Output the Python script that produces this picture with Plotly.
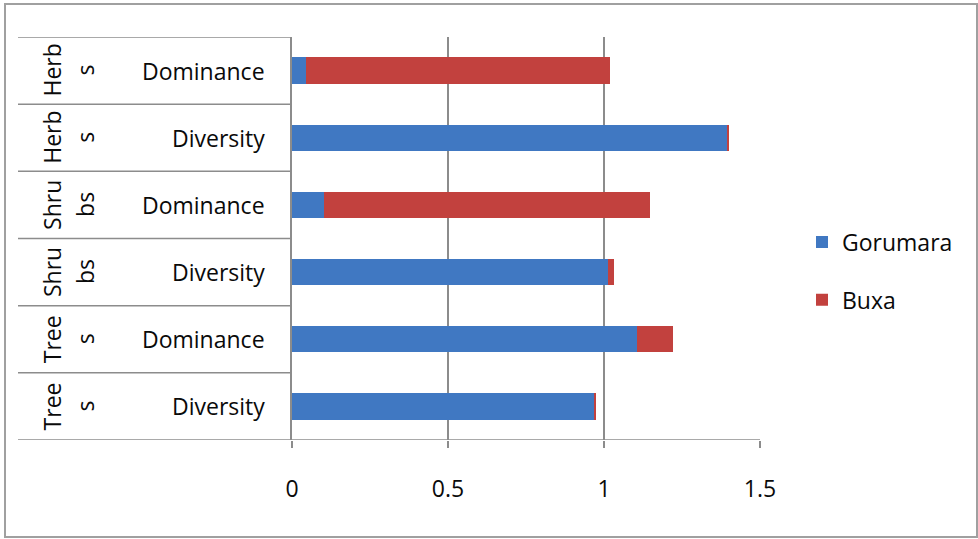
import plotly.graph_objects as go

# ---- data (bottom to top) ----
groups = ["Trees", "Trees", "Shrubs", "Shrubs", "Herbs", "Herbs"]
group_wrap = [("Tree", "s"), ("Tree", "s"), ("Shru", "bs"), ("Shru", "bs"), ("Herb", "s"), ("Herb", "s")]
metrics = ["Diversity", "Dominance", "Diversity", "Dominance", "Diversity", "Dominance"]
gorumara = [0.970, 1.107, 1.014, 0.102, 1.397, 0.046]
buxa = [0.004, 0.115, 0.017, 1.044, 0.005, 0.973]
x_ticks = [0, 0.5, 1, 1.5]
x_tick_labels = ["0", "0.5", "1", "1.5"]

cats = [f"{g} {m}" for g, m in zip(groups, metrics)]

BLUE = "#4078C2"
RED = "#C2413E"
GRAY = "#8C8C8C"
FONT = "Open Sans"
FS = 23
TXT = "#0A0A0A"

fig = go.Figure()
fig.add_trace(go.Bar(y=cats, x=gorumara, orientation="h", name="Gorumara",
                     marker=dict(color=BLUE, line=dict(width=0)), legendgroup="g"))
fig.add_trace(go.Bar(y=cats, x=buxa, orientation="h", name="Buxa",
                     marker=dict(color=RED, line=dict(width=0)), legendgroup="b"))

L, R, T, B = 292, 760, 37, 440
W, H = 978, 539
pw, ph = R - L, B - T

def px(xp):
    return (xp - L) / pw

def py(yp):
    return (B - yp) / ph

shapes = []
n = len(cats)
for i in range(n + 1):
    shapes.append(dict(type="line", xref="paper", yref="y",
                       x0=px(18), x1=(1 if i == 0 else 0), y0=i - 0.5, y1=i - 0.5,
                       line=dict(color=GRAY, width=1.5), layer="above"))
shapes.append(dict(type="rect", xref="paper", yref="paper",
                   x0=px(5), x1=px(977), y0=py(537), y1=py(4),
                   line=dict(color="#A0A0A0", width=2)))

annotations = []
for i, (c, m, (a, b)) in enumerate(zip(cats, metrics, group_wrap)):
    annotations.append(dict(xref="paper", yref="y", x=0, y=c, xshift=-25,
                            xanchor="right", yanchor="middle", text=m, showarrow=False,
                            font=dict(family=FONT, size=FS, color=TXT)))
    annotations.append(dict(xref="paper", yref="y", x=0, y=c, xshift=52 - L,
                            xanchor="center", yanchor="middle", text=a, textangle=-90,
                            showarrow=False, font=dict(family=FONT, size=FS, color=TXT)))
    annotations.append(dict(xref="paper", yref="y", x=0, y=c, xshift=85 - L,
                            xanchor="center", yanchor="middle", text=b, textangle=-90,
                            showarrow=False, font=dict(family=FONT, size=FS, color=TXT)))

fig.update_layout(
    width=W, height=H,
    margin=dict(l=L, r=W - R, t=T, b=H - B, pad=0),
    barmode="stack", bargap=0.61,
    paper_bgcolor="white", plot_bgcolor="white",
    font=dict(family=FONT, size=FS, color=TXT),
    xaxis=dict(range=[0, 1.5], tickvals=x_ticks, ticktext=x_tick_labels,
               showgrid=True, gridcolor=GRAY, gridwidth=1.5,
               zeroline=False, showline=False,
               ticks="outside", ticklen=7, tickcolor=GRAY, tickwidth=1.5,
               ticklabelstandoff=21,
               tickfont=dict(family=FONT, size=FS, color=TXT)),
    yaxis=dict(showticklabels=False, showgrid=False, zeroline=False,
               showline=True, linecolor=GRAY, linewidth=1.5,
               range=[-0.5, n - 0.5], ticks=""),
    legend=dict(x=px(802), y=py(271), xanchor="left", yanchor="middle",
                traceorder="grouped", tracegroupgap=25,
                font=dict(family=FONT, size=FS, color=TXT),
                bgcolor="rgba(0,0,0,0)"),
    shapes=shapes, annotations=annotations,
)

fig.write_html("out.html",
               config={"displayModeBar": False},
               post_script="document.body.style.margin='0';document.body.style.overflow='hidden';")
